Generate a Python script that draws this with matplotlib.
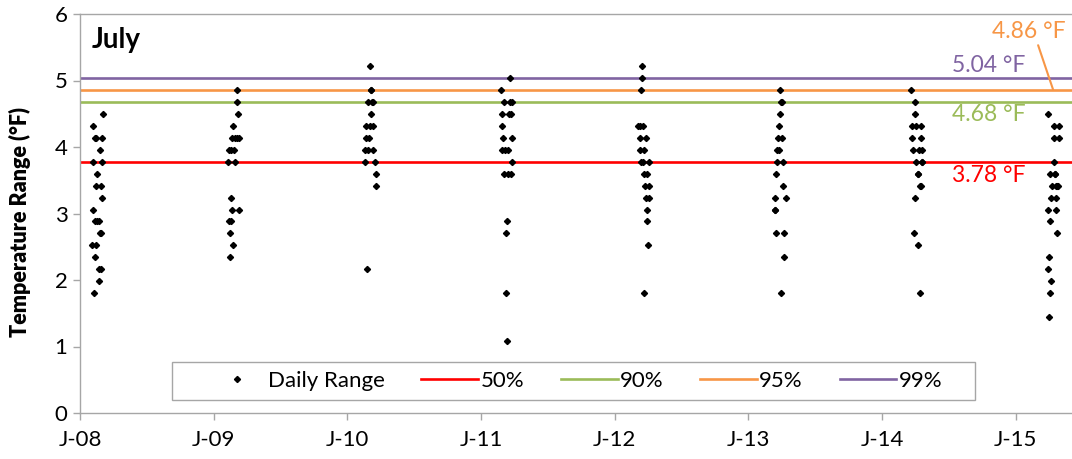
import matplotlib
matplotlib.use("Agg")
import matplotlib.pyplot as plt
import matplotlib.dates as mdates
from matplotlib.lines import Line2D
from matplotlib.patches import Rectangle
import numpy as np
from datetime import date

plt.rcParams['font.family'] = ['Lato', 'DejaVu Sans']

# July daily temperature range (°F): day of month and value, one pair of lists per year
days_08 = [1, 4, 5, 6, 8, 9, 10, 11, 12, 13, 14, 15, 16, 20, 21, 22, 23, 24, 25, 26, 27, 28, 29, 30, 31]
temp_08 = [2.52, 3.78, 4.32, 3.06, 1.80, 2.88, 4.14, 2.34, 3.42, 2.52, 4.14, 2.88, 3.60, 2.88, 1.98, 2.16,
           3.96, 2.70, 3.42, 2.16, 2.70, 3.24, 3.78, 4.14, 4.50]

days_09 = [1, 2, 4, 6, 7, 8, 9, 10, 11, 12, 13, 15, 17, 19, 20, 24, 25, 26, 27, 30, 31]
temp_09 = [3.78, 3.96, 2.88, 2.70, 2.34, 2.88, 3.24, 3.96, 3.06, 4.14, 2.52, 4.32, 3.96, 3.78, 4.14, 4.68,
           4.14, 4.86, 4.50, 4.14, 3.06]

days_10 = [1, 2, 4, 5, 8, 10, 11, 12, 14, 15, 17, 18, 19, 21, 22, 23, 24, 28, 30, 31]
temp_10 = [3.96, 3.78, 4.32, 4.14, 2.16, 3.96, 4.68, 4.14, 5.22, 4.32, 4.86, 4.86, 4.50, 4.68, 4.68, 3.96,
           4.32, 3.78, 3.60, 3.42]

days_11 = [1, 2, 3, 4, 7, 8, 9, 10, 13, 14, 16, 17, 18, 19, 21, 24, 25, 27, 28, 29, 30, 31]
temp_11 = [4.86, 3.96, 4.32, 4.50, 4.14, 4.68, 3.60, 3.96, 1.80, 2.70, 1.08, 2.88, 3.60, 3.96, 4.50, 4.68,
           5.04, 3.60, 4.50, 4.68, 4.14, 3.78]

days_12 = [1, 5, 6, 7, 8, 10, 11, 12, 13, 14, 16, 17, 18, 19, 21, 22, 24, 25, 26, 27, 29, 30, 31]
temp_12 = [4.32, 4.32, 4.14, 3.96, 3.78, 4.86, 5.04, 5.22, 3.78, 4.32, 1.80, 3.96, 3.60, 3.42, 4.14, 3.24,
           3.60, 3.06, 2.88, 2.52, 3.78, 3.24, 3.42]

days_13 = [1, 2, 3, 4, 6, 7, 8, 10, 12, 13, 15, 16, 18, 19, 20, 21, 23, 24, 26, 27, 31]
temp_13 = [3.24, 3.06, 3.06, 2.70, 3.60, 3.78, 3.96, 4.14, 3.96, 4.32, 4.50, 4.86, 1.80, 4.68, 4.68, 4.14,
           3.78, 3.42, 2.34, 2.70, 3.24]

days_14 = [1, 3, 4, 5, 8, 10, 11, 12, 13, 14, 18, 19, 20, 22, 24, 25, 26, 27, 28, 29, 30, 31]
temp_14 = [4.86, 4.14, 4.32, 3.96, 2.70, 4.68, 4.50, 3.24, 4.32, 3.78, 3.60, 3.60, 2.52, 3.96, 1.80, 3.42,
           3.42, 4.14, 4.32, 3.96, 3.78, 3.78]

days_15 = [1, 2, 3, 4, 5, 6, 7, 8, 9, 11, 13, 17, 18, 19, 20, 21, 22, 23, 24, 25, 26, 29, 30, 31]
temp_15 = [4.50, 3.06, 2.16, 1.44, 2.34, 3.60, 1.80, 2.88, 3.24, 1.98, 3.42, 4.14, 4.32, 3.78, 3.60, 3.60,
           3.42, 3.06, 3.24, 3.42, 2.70, 3.42, 4.14, 4.32]

years = [2008, 2009, 2010, 2011, 2012, 2013, 2014, 2015]
all_days = [days_08, days_09, days_10, days_11, days_12, days_13, days_14, days_15]
all_temps = [temp_08, temp_09, temp_10, temp_11, temp_12, temp_13, temp_14, temp_15]

# percentile levels of the daily range
pct_names = ['50%', '90%', '95%', '99%']
pct_values = [3.78, 4.68, 4.86, 5.04]
pct_colors = ['#ff0000', '#9bbb59', '#f79646', '#8064a2']

tick_labels = ['J-08', 'J-09', 'J-10', 'J-11', 'J-12', 'J-13', 'J-14', 'J-15']

x = []
y = []
for yr, dd, tt in zip(years, all_days, all_temps):
    x += [mdates.date2num(date(yr, 7, d)) for d in dd]
    y += tt

fig = plt.figure(figsize=(10.72, 4.59), dpi=100)
ax = fig.add_axes([80 / 1072, 46 / 459, 992 / 1072, 399 / 459])

for val, col in zip(pct_values, pct_colors):
    ax.axhline(val, color=col, lw=1.9, zorder=2)

ax.plot(x, y, 'D', color='black', ms=3.1, mec='black', zorder=3)

x0 = mdates.date2num(date(2008, 5, 31))
ax.set_xlim(x0, x0 + 2652)
ax.set_xticks(x0 + np.arange(8) * 357.4)
ax.set_xticklabels(tick_labels)
ax.set_ylim(0, 6)
ax.set_yticks(range(7))

for side in ['left', 'bottom', 'top']:
    ax.spines[side].set_color('#a6a6a6')
    ax.spines[side].set_linewidth(1)
ax.spines['right'].set_visible(False)
ax.tick_params(axis='both', colors='#a6a6a6', labelcolor='black', labelsize=16, length=5, width=1)
ax.tick_params(axis='x', pad=7)
ax.tick_params(axis='y', pad=4)

ax.set_ylabel('Temperature Range (°F)', fontsize=15.5, fontweight='heavy')
ax.yaxis.set_label_coords(-0.049, 0.479)

ax.text(0.012, 0.968, 'July', transform=ax.transAxes, fontsize=20, fontweight='bold', va='top', ha='left')

# value labels next to the percentile lines
tr = ax.get_yaxis_transform()
ax.text(0.916, 5.04 + 0.03, '5.04 °F', transform=tr, color=pct_colors[3], fontsize=16.5, ha='center', va='bottom')
ax.text(0.916, 4.68 - 0.04, '4.68 °F', transform=tr, color=pct_colors[1], fontsize=16.5, ha='center', va='top')
ax.text(0.916, 3.78 - 0.05, '3.78 °F', transform=tr, color=pct_colors[0], fontsize=16.5, ha='center', va='top')
ax.annotate('4.86 °F', xy=(0.981, 4.86), xycoords=tr, xytext=(0.956, 5.73), textcoords=tr,
            color=pct_colors[2], fontsize=16.5, ha='center', va='center',
            arrowprops=dict(arrowstyle='-', color=pct_colors[2], lw=1.5, relpos=(0.62, 0.0),
                            shrinkA=0, shrinkB=0))

# legend box drawn separately so its padding can be wider than tall
ax.add_patch(Rectangle((0.0927, 0.0326), 0.8095, 0.0952, transform=ax.transAxes,
                       facecolor='white', edgecolor='#a6a6a6', lw=1, zorder=4))
handles = [Line2D([], [], ls='none', marker='D', ms=3.1, color='black')]
handles += [Line2D([], [], color=c, lw=1.9) for c in pct_colors]
leg = ax.legend(handles, ['Daily Range'] + pct_names, loc='center', bbox_to_anchor=(0.4995, 0.080),
                ncol=5, fontsize=16, frameon=False, handlelength=2.56,
                handletextpad=0.1, columnspacing=1.65, borderpad=0.2)
leg.set_zorder(5)

fig.savefig('out.png', dpi=100)
